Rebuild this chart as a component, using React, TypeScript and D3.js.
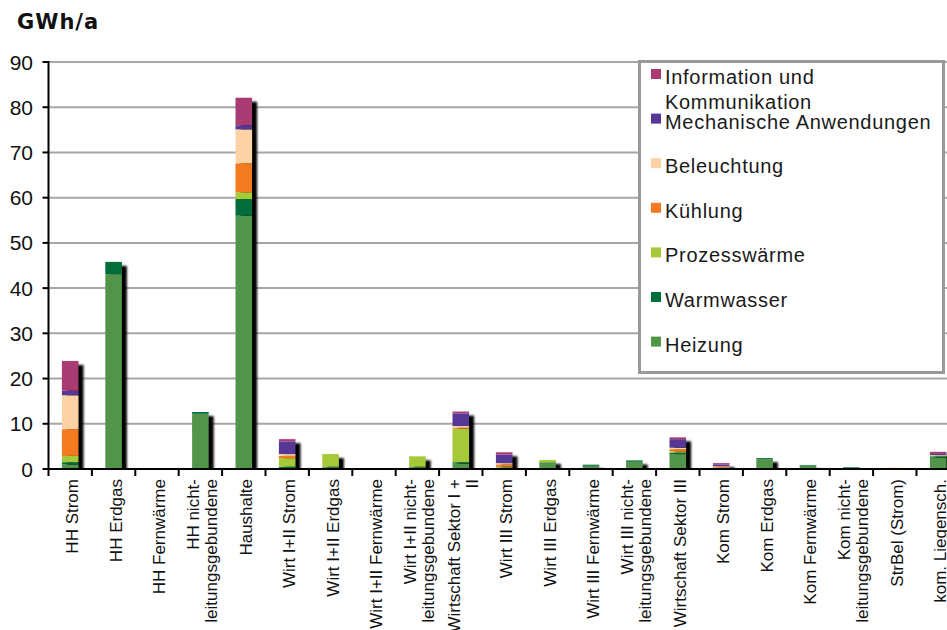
import React from "react";
import * as d3 from "d3";

const categories: string[][] = [
  ["HH Strom"],
  ["HH Erdgas"],
  ["HH Fernwärme"],
  ["HH nicht-", "leitungsgebundene"],
  ["Haushalte"],
  ["Wirt I+II Strom"],
  ["Wirt I+II Erdgas"],
  ["Wirt I+II Fernwärme"],
  ["Wirt I+II nicht-", "leitungsgebundene"],
  ["Wirtschaft Sektor I +", "II"],
  ["Wirt III Strom"],
  ["Wirt III Erdgas"],
  ["Wirt III Fernwärme"],
  ["Wirt III nicht-", "leitungsgebundene"],
  ["Wirtschaft Sektor III"],
  ["Kom Strom"],
  ["Kom Erdgas"],
  ["Kom Fernwärme"],
  ["Kom nicht-", "leitungsgebundene"],
  ["StrBel (Strom)"],
  ["kom. Liegensch."],
];

const heizung = [1.0, 43.1, 0, 12.2, 56.0, 0.2, 0.4, 0, 0.4, 1.2, 0.2, 1.4, 0.7, 1.6, 3.3, 0.1, 2.2, 0.75, 0.25, 0, 2.5];
const warmwasser = [0.5, 2.7, 0, 0.4, 3.7, 0.3, 0.1, 0, 0.1, 0.3, 0.1, 0.1, 0.25, 0.3, 0.3, 0.1, 0.2, 0.15, 0.15, 0, 0.3];
const prozesswaerme = [1.4, 0, 0, 0, 1.5, 1.9, 2.8, 0, 2.3, 7.4, 0.2, 0.5, 0, 0, 0.3, 0.1, 0, 0, 0, 0, 0.1];
const kuehlung = [5.9, 0, 0, 0, 6.4, 0.5, 0, 0, 0, 0.2, 0.5, 0, 0, 0, 0.5, 0.2, 0, 0, 0, 0, 0.1];
const beleuchtung = [7.5, 0, 0, 0, 7.5, 0.4, 0, 0, 0, 0.4, 0.3, 0, 0, 0, 0.3, 0.1, 0, 0, 0, 0.3, 0.1];
const mechanisch = [1.0, 0, 0, 0, 0.9, 2.8, 0, 0, 0, 2.8, 1.9, 0, 0, 0, 1.9, 0.4, 0, 0, 0, 0, 0.4];
const information = [6.6, 0, 0, 0, 6.1, 0.5, 0, 0, 0, 0.4, 0.5, 0, 0, 0, 0.4, 0.3, 0, 0, 0, 0, 0.3];

const seriesNames = ["Heizung", "Warmwasser", "Prozesswärme", "Kühlung", "Beleuchtung", "Mechanische Anwendungen", "Information und Kommunikation"];
const seriesColors = ["#52944a", "#006d3b", "#a6c93a", "#f47a20", "#fdd3a6", "#553796", "#a93b73"];
const legendLabels: string[][] = [
  ["Information und", "Kommunikation"],
  ["Mechanische Anwendungen"],
  ["Beleuchtung"],
  ["Kühlung"],
  ["Prozesswärme"],
  ["Warmwasser"],
  ["Heizung"],
];
const legendColors = ["#a93b73", "#553796", "#fdd3a6", "#f47a20", "#a6c93a", "#006d3b", "#52944a"];
const yTicks = [0, 10, 20, 30, 40, 50, 60, 70, 80, 90];

const W = 947;
const H = 630;
const FONT = "'Liberation Sans', Arial, sans-serif";

export default function App() {
  const keys = seriesNames;
  const allSeries = [heizung, warmwasser, prozesswaerme, kuehlung, beleuchtung, mechanisch, information];
  const rows = categories.map((c, i) => {
    const r: any = { cat: c.join(" ") };
    keys.forEach((k, j) => (r[k] = allSeries[j][i]));
    return r;
  });
  const stacked = d3.stack<any>().keys(keys)(rows);

  const x0 = 48.5;
  const step = 43.4;
  const x = d3
    .scaleBand<string>()
    .domain(rows.map((r) => r.cat))
    .range([x0, x0 + step * categories.length])
    .padding(0);
  const y = d3.scaleLinear().domain([0, 90]).range([469, 62]);
  const bw = 16.6;
  const totals = rows.map((_, i) => d3.sum(allSeries, (s) => s[i]));

  return (
    <svg width={W} height={H} style={{ position: "absolute", left: 0, top: 0, background: "#fff" }}>
      <defs>
        <filter id="blur" x="-50%" y="-50%" width="200%" height="200%">
          <feGaussianBlur stdDeviation="0.9" />
        </filter>
        <clipPath id="plotclip">
          <rect x={x0} y={0} width={W} height={469} />
        </clipPath>
      </defs>
      <text x={17} y={29} fontFamily="'DejaVu Sans', sans-serif" fontWeight="bold" fontSize={21} letterSpacing={1} fill="#111">
        GWh/a
      </text>
      {/* gridlines */}
      {yTicks.filter((t) => t > 0).map((t) => (
        <line key={t} x1={x0} x2={W} y1={y(t)} y2={y(t)} stroke="#a6a6a6" strokeWidth={2} />
      ))}
      {/* shadows */}
      <g clipPath="url(#plotclip)">
        {rows.map((r, i) =>
          totals[i] > 0 ? (
            <rect
              key={i}
              x={(x(r.cat) as number) + x.bandwidth() / 2 - bw / 2 + 5}
              y={y(totals[i]) + 4}
              width={bw}
              height={Math.max(0, y(0) - y(totals[i]))}
              fill="#000"
              filter="url(#blur)"
            />
          ) : null
        )}
      </g>
      {/* bars */}
      {stacked.map((s, si) => (
        <g key={s.key} fill={seriesColors[si]}>
          {s.map((d, i) =>
            d[1] - d[0] > 0 ? (
              <rect
                key={i}
                x={(x(rows[i].cat) as number) + x.bandwidth() / 2 - bw / 2}
                y={y(d[1])}
                width={bw}
                height={y(d[0]) - y(d[1])}
              />
            ) : null
          )}
        </g>
      ))}
      {/* axes */}
      <line x1={x0} x2={x0} y1={61} y2={470} stroke="#000" strokeWidth={2} />
      <line x1={x0 - 1} x2={W} y1={469} y2={469} stroke="#000" strokeWidth={2} />
      {yTicks.map((t) => (
        <g key={t}>
          <line x1={x0 - 6} x2={x0} y1={y(t)} y2={y(t)} stroke="#000" strokeWidth={2} />
          <text x={33} y={y(t)} dy="0.36em" textAnchor="end" fontFamily={FONT} fontSize={21} fill="#111">
            {t}
          </text>
        </g>
      ))}
      {d3.range(categories.length + 1).map((i) => (
        <line key={i} x1={x0 + i * step} x2={x0 + i * step} y1={469} y2={476} stroke="#000" strokeWidth={2} />
      ))}
      {categories.map((c, i) => {
        const cx = (x(rows[i].cat) as number) + x.bandwidth() / 2 + 2;
        const n = c.length;
        return c.map((line, li) => {
          const off = (li - (n - 1) / 2) * 18;
          const bx = cx + off + 6;
          return (
            <text
              key={i + "-" + li}
              transform={`translate(${bx},479) rotate(-90)`}
              textAnchor="end"
              fontFamily={FONT}
              fontSize={17}
              fill="#111"
            >
              {line}
            </text>
          );
        });
      })}
      {/* legend */}
      <rect x={639.5} y={61.5} width={304} height={311} fill="#fff" stroke="#999" strokeWidth={3} />
      {legendLabels.map((lab, i) => {
        const top = 69 + i * 44.6;
        return (
          <g key={i}>
            <rect x={651} y={top} width={10} height={10} fill={legendColors[i]} />
            {lab.map((l, li) => (
              <text key={li} x={665} y={top + 15 + li * 25} fontFamily={FONT} fontSize={20} letterSpacing={0.7} fill="#1a1a1a">
                {l}
              </text>
            ))}
          </g>
        );
      })}
    </svg>
  );
}
